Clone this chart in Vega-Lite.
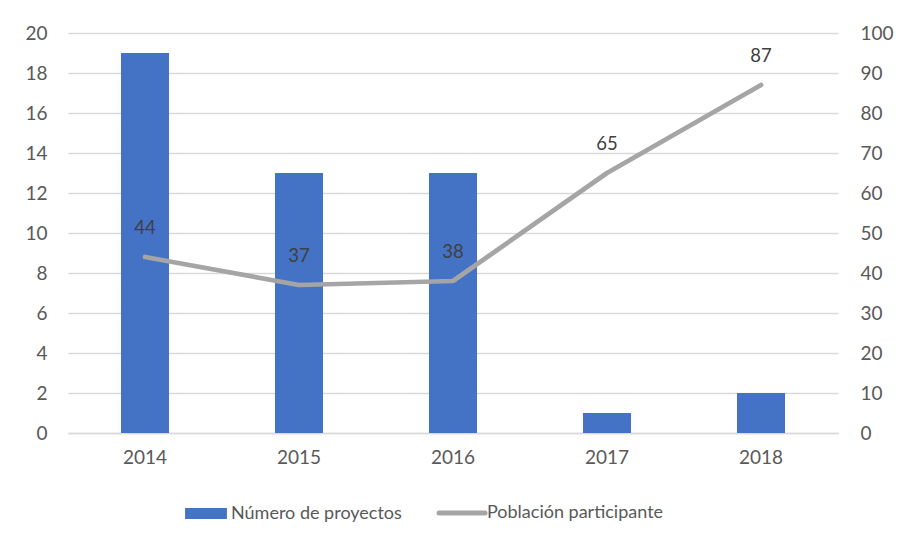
{
  "$schema": "https://vega.github.io/schema/vega-lite/v6.json",
  "autosize": {"type": "none"},
  "padding": {"left": 68, "top": 33, "right": 65, "bottom": 113},
  "width": 770,
  "height": 400,
  "background": "white",
  "config": {
    "font": "Lato",
    "view": {"stroke": null},
    "axis": {"labelFont": "Lato", "labelFontSize": 19, "labelColor": "#595959", "ticks": false, "tickSize": 0, "title": null, "labelOverlap": false},
    "legend": {"labelFont": "Lato", "labelFontSize": 18, "labelColor": "#595959", "symbolSize": 2116, "labelLimit": 400}
  },
  "data": {
    "values": [
      {"anio": "2014", "proyectos": 19, "poblacion": 44},
      {"anio": "2015", "proyectos": 13, "poblacion": 37},
      {"anio": "2016", "proyectos": 13, "poblacion": 38},
      {"anio": "2017", "proyectos": 1, "poblacion": 65},
      {"anio": "2018", "proyectos": 2, "poblacion": 87}
    ]
  },
  "encoding": {
    "x": {
      "field": "anio",
      "type": "nominal",
      "scale": {"paddingInner": 0.688, "paddingOuter": 0.344},
      "axis": {"labelAngle": 0, "labelPadding": 15, "labelFontSize": 19, "labelColor": "#595959", "domainColor": "#D9D9D9", "domainWidth": 1.5, "grid": false}
    }
  },
  "layer": [
    {
      "mark": {"type": "bar"},
      "encoding": {
        "y": {
          "field": "proyectos",
          "type": "quantitative",
          "scale": {"domain": [0, 20]},
          "axis": {"values": [0, 2, 4, 6, 8, 10, 12, 14, 16, 18, 20], "labelFontSize": 19, "labelColor": "#595959", "grid": true, "gridColor": "#D9D9D9", "gridWidth": 1.5, "domain": false, "labelPadding": 21}
        },
        "color": {
          "datum": "Número de proyectos",
          "type": "nominal",
          "scale": {"domain": ["Número de proyectos", "Población participante"], "range": ["#4472C4", "#A5A5A5"]},
          "legend": {
            "title": null,
            "orient": "none",
            "legendX": 129,
            "legendY": 471,
            "direction": "horizontal",
            "symbolSize": 2116,
            "symbolStrokeWidth": 0,
            "labelOffset": 16,
            "labelLimit": 400,
            "labelFontSize": 18,
            "columnPadding": 27,
            "encode": {
              "symbols": {
                "update": {
                  "size": {"value": 2116},
                  "shape": {"signal": "datum.value == 'Número de proyectos' ? 'M-0.91,-0.24H0.91V0.24H-0.91Z' : 'M-1,0H1'"},
                  "fill": {"signal": "datum.value == 'Número de proyectos' ? '#4472C4' : 'transparent'"},
                  "stroke": {"signal": "datum.value == 'Número de proyectos' ? 'transparent' : '#A5A5A5'"},
                  "strokeWidth": {"signal": "datum.value == 'Número de proyectos' ? 0 : 5"},
                  "strokeCap": {"value": "round"},
                  "opacity": {"value": 1},
                  "fillOpacity": {"value": 1},
                  "strokeOpacity": {"value": 1}
                }
              }
            }
          }
        }
      }
    },
    {
      "encoding": {
        "y": {
          "field": "poblacion",
          "type": "quantitative",
          "scale": {"domain": [0, 100]},
          "axis": {"orient": "right", "values": [0, 10, 20, 30, 40, 50, 60, 70, 80, 90, 100], "labelFontSize": 19, "labelColor": "#595959", "labelOverlap": false, "grid": false, "domain": false, "labelPadding": 22}
        }
      },
      "layer": [
        {
          "mark": {"type": "line", "strokeWidth": 4.75, "strokeCap": "round", "strokeJoin": "round"},
          "encoding": {
            "color": {"datum": "Población participante", "type": "nominal"}
          }
        },
        {
          "mark": {"type": "text", "baseline": "bottom", "dy": -19, "fontSize": 18.5, "color": "#404040", "font": "Lato"},
          "encoding": {
            "text": {"field": "poblacion", "type": "quantitative"}
          }
        }
      ]
    }
  ],
  "resolve": {"scale": {"y": "independent"}}
}
